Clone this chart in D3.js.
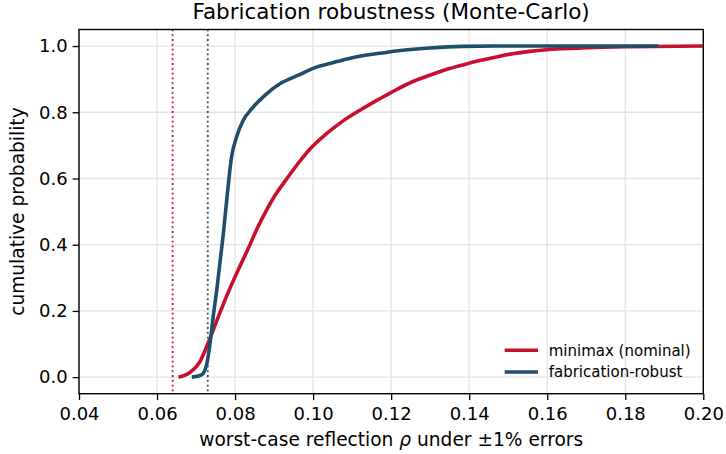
<!DOCTYPE html>
<html>
<head>
<meta charset="utf-8">
<script src="https://cdn.jsdelivr.net/npm/d3@7"></script>
<style>
  html, body { margin: 0; padding: 0; background: #fff; }
  svg { display: block; font-family: "DejaVu Sans", sans-serif; }
</style>
</head>
<body>
<svg id="chart" width="726" height="454"></svg>
<script>
// ---- data ----
const minimaxX = [0.0655, 0.0684, 0.0710, 0.0731, 0.0757, 0.0783, 0.0808, 0.0834, 0.0855, 0.0881, 0.0903, 0.0928, 0.0958, 0.0992, 0.1035, 0.1077, 0.1120, 0.1163, 0.1193, 0.1213, 0.1256, 0.1299, 0.1341, 0.1384, 0.1427, 0.1469, 0.1512, 0.1555, 0.1598, 0.1640, 0.1726, 0.1810, 0.2000];
const minimaxY = [0.000, 0.014, 0.047, 0.103, 0.182, 0.258, 0.324, 0.389, 0.445, 0.505, 0.550, 0.592, 0.640, 0.689, 0.736, 0.774, 0.806, 0.836, 0.855, 0.868, 0.893, 0.912, 0.929, 0.943, 0.956, 0.967, 0.977, 0.984, 0.989, 0.992, 0.996, 0.998, 1.000];
const robustX = [0.0689, 0.0714, 0.0727, 0.0736, 0.0744, 0.0753, 0.0761, 0.0770, 0.0779, 0.0791, 0.0804, 0.0821, 0.0843, 0.0877, 0.0919, 0.0962, 0.1005, 0.1048, 0.1090, 0.1133, 0.1171, 0.1213, 0.1299, 0.1384, 0.1469, 0.1885];
const robustY = [0.000, 0.007, 0.037, 0.103, 0.183, 0.263, 0.344, 0.434, 0.540, 0.665, 0.726, 0.776, 0.811, 0.852, 0.889, 0.912, 0.935, 0.949, 0.962, 0.972, 0.978, 0.985, 0.994, 0.999, 1.000, 1.000];
const nominalMinimax = 0.064;
const nominalRobust = 0.073;
const xTicks = [0.04, 0.06, 0.08, 0.10, 0.12, 0.14, 0.16, 0.18, 0.20];
const yTicks = [0.0, 0.2, 0.4, 0.6, 0.8, 1.0];
const seriesNames = ["minimax (nominal)", "fabrication-robust"];
const colors = ["#c8102e", "#1d4e6e"];

// ---- layout ----
const svg = d3.select("#chart");
const L = 79, R = 703.3, T = 29.5, B = 393.7;
const x = d3.scaleLinear().domain([0.04, 0.20]).range([L, R]);
const y = d3.scaleLinear().domain([-0.05, 1.05]).range([B, T]);

// grid
const grid = svg.append("g");
grid.selectAll(".gx").data(xTicks).enter().append("line")
  .attr("x1", d => x(d)).attr("x2", d => x(d)).attr("y1", T).attr("y2", B)
  .attr("stroke", "#e3e3e3").attr("stroke-width", 1.3);
grid.selectAll(".gy").data(yTicks).enter().append("line")
  .attr("y1", d => y(d)).attr("y2", d => y(d)).attr("x1", L).attr("x2", R)
  .attr("stroke", "#e3e3e3").attr("stroke-width", 1.3);

// clip
svg.append("clipPath").attr("id", "clip").append("rect")
  .attr("x", L).attr("y", T).attr("width", R - L).attr("height", B - T);

const plot = svg.append("g").attr("clip-path", "url(#clip)");

// nominal dotted lines
[nominalMinimax, nominalRobust].forEach((v, i) => {
  plot.append("line")
    .attr("x1", x(v)).attr("x2", x(v)).attr("y1", T).attr("y2", B)
    .attr("stroke", colors[i]).attr("stroke-width", 1.8)
    .attr("stroke-dasharray", "1.8,3");
});

const line = d3.line().x(d => x(d[0])).y(d => y(d[1])).curve(d3.curveMonotoneX);
const series = [d3.zip(minimaxX, minimaxY), d3.zip(robustX, robustY)];
series.forEach((s, i) => {
  plot.append("path").datum(s).attr("d", line)
    .attr("fill", "none").attr("stroke", colors[i])
    .attr("stroke-width", 3.6).attr("stroke-linejoin", "round").attr("stroke-linecap", "butt");
});

// axes
const xAxis = d3.axisBottom(x).tickValues(xTicks).tickFormat(d3.format(".2f")).tickSize(6.4).tickPadding(7);
const yAxis = d3.axisLeft(y).tickValues(yTicks).tickFormat(d3.format(".1f")).tickSize(6.4).tickPadding(5);
const gx = svg.append("g").attr("transform", `translate(0,${B})`).call(xAxis);
const gy = svg.append("g").attr("transform", `translate(${L},0)`).call(yAxis);
[gx, gy].forEach(g => {
  g.select(".domain").remove();
  g.selectAll("line").attr("stroke", "#000").attr("stroke-width", 1.3);
  g.selectAll("text").attr("font-size", 18).attr("fill", "#000").attr("font-family", "DejaVu Sans");
});

// frame
svg.append("rect").attr("x", L).attr("y", T).attr("width", R - L).attr("height", B - T)
  .attr("fill", "none").attr("stroke", "#000").attr("stroke-width", 1.4);

// title
svg.append("text").attr("x", (L + R) / 2).attr("y", 18.5).attr("text-anchor", "middle")
  .attr("font-size", 21.5).text("Fabrication robustness (Monte-Carlo)");

// x label
const xl = svg.append("text").attr("x", (L + R) / 2).attr("y", 446).attr("text-anchor", "middle")
  .attr("font-size", 18.6);
xl.append("tspan").text("worst-case reflection ");
xl.append("tspan").attr("font-style", "italic").text("ρ");
xl.append("tspan").text(" under ±1% errors");

// y label
svg.append("text").attr("transform", `translate(24,${(T + B) / 2}) rotate(-90)`)
  .attr("text-anchor", "middle").attr("font-size", 18.6).text("cumulative probability");

// legend
const leg = svg.append("g");
seriesNames.forEach((n, i) => {
  const ly = 350.3 + i * 21.7;
  leg.append("line").attr("x1", 504.7).attr("x2", 538).attr("y1", ly).attr("y2", ly)
    .attr("stroke", colors[i]).attr("stroke-width", 3.6);
  leg.append("text").attr("x", 548.7).attr("y", ly).attr("dy", "0.35em")
    .attr("font-size", 15).text(n);
});
</script>
</body>
</html>
